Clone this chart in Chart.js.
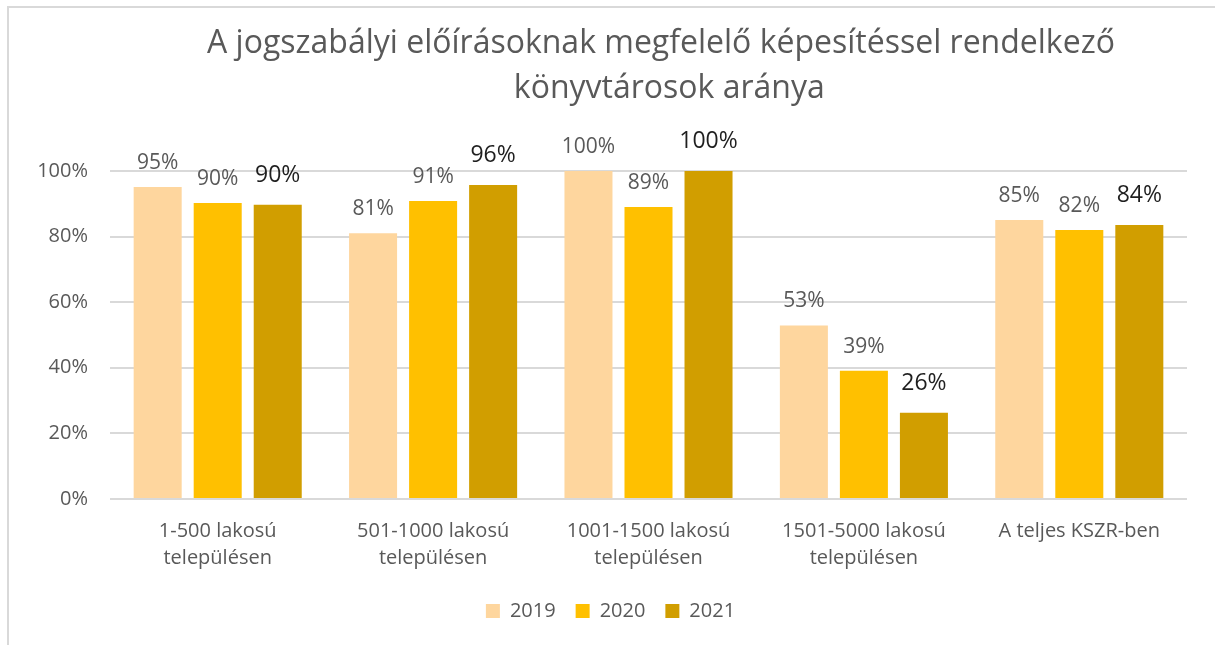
<!DOCTYPE html>
<html>
<head>
<meta charset="utf-8">
<script src="https://cdn.jsdelivr.net/npm/chart.js@4/dist/chart.umd.min.js"></script>
<style>
  html, body { margin: 0; padding: 0; background: #fff; }
  #wrap { position: relative; width: 1215px; height: 645px; }
  #frame { position: absolute; left: 7px; top: 6px; right: 0; bottom: 0;
           border-left: 2px solid #d9d9d9; border-top: 2px solid #d9d9d9; pointer-events: none; }
</style>
</head>
<body>
<div id="wrap">
  <canvas id="chart" width="1215" height="645"></canvas>
  <div id="frame"></div>
</div>
<script>
// categories (two-line labels)
const categories = [
  ['1-500 lakosú', 'településen'],
  ['501-1000 lakosú', 'településen'],
  ['1001-1500 lakosú', 'településen'],
  ['1501-5000 lakosú', 'településen'],
  ['A teljes KSZR-ben']
];
const years = ['2019', '2020', '2021'];

// share of qualified librarians (%)
const values2019 = [95.1, 81.0, 100, 52.9, 85.0];
const values2020 = [90.2, 90.8, 89.0, 39.1, 82.0];
const values2021 = [89.7, 95.7, 100, 26.3, 83.5];

const yTicks = [0, 20, 40, 60, 80, 100];

const colors = ['#FED69E', '#FFC000', '#D19E00'];

const FONT = "'Open Sans', sans-serif";
const GREY = '#595959';

// draws the value labels above each bar
const valueLabels = {
  id: 'valueLabels',
  afterDatasetsDraw(chart) {
    const ctx = chart.ctx;
    ctx.save();
    ctx.textAlign = 'center';
    ctx.textBaseline = 'alphabetic';
    chart.data.datasets.forEach((ds, i) => {
      const meta = chart.getDatasetMeta(i);
      const big = i === 2;
      ctx.font = (big ? '23px ' : '21px ') + FONT;
      ctx.fillStyle = big ? '#1f1f1f' : GREY;
      meta.data.forEach((bar, j) => {
        ctx.fillText(Math.round(ds.data[j]) + '%', bar.x, bar.y - (big ? 23 : 18));
      });
    });
    ctx.restore();
  }
};

new Chart(document.getElementById('chart'), {
  type: 'bar',
  data: {
    labels: categories,
    datasets: [
      { label: years[0], data: values2019, backgroundColor: colors[0] },
      { label: years[1], data: values2020, backgroundColor: colors[1] },
      { label: years[2], data: values2021, backgroundColor: colors[2] }
    ]
  },
  options: {
    responsive: false,
    animation: false,
    datasets: { bar: { barPercentage: 0.8, categoryPercentage: 0.836 } },
    layout: { padding: { left: 34, right: 28, top: 0, bottom: 14 } },
    plugins: {
      title: {
        display: true,
        fullSize: false,
        // leading spaces nudge the lines right like in the original
        text: ['   A jogszabályi előírásoknak megfelelő képesítéssel rendelkező', '     könyvtárosok aránya'],
        color: GREY,
        font: { family: FONT, size: 32, weight: 'normal', lineHeight: 1.42 },
        padding: { top: 21, bottom: 59 }
      },
      legend: {
        position: 'bottom',
        labels: {
          color: GREY,
          font: { family: FONT, size: 20 },
          boxWidth: 14,
          boxHeight: 14,
          padding: 20
        }
      },
      tooltip: { enabled: false }
    },
    scales: {
      x: {
        grid: { display: false },
        border: { display: false },
        ticks: {
          color: GREY,
          font: { family: FONT, size: 20, lineHeight: 1.35 },
          padding: 11,
          maxRotation: 0,
          autoSkip: false
        },
        afterFit(s) { s.height = 82; }
      },
      y: {
        min: 0,
        max: 100,
        afterBuildTicks(s) { s.ticks = yTicks.map(v => ({ value: v })); },
        grid: { color: '#d9d9d9', lineWidth: 2, drawTicks: false },
        border: { display: false },
        ticks: {
          color: GREY,
          font: { family: FONT, size: 20 },
          padding: 22,
          callback: v => v + '%'
        },
        afterFit(s) { s.width = 76; }
      }
    }
  },
  plugins: [valueLabels]
});
</script>
</body>
</html>
